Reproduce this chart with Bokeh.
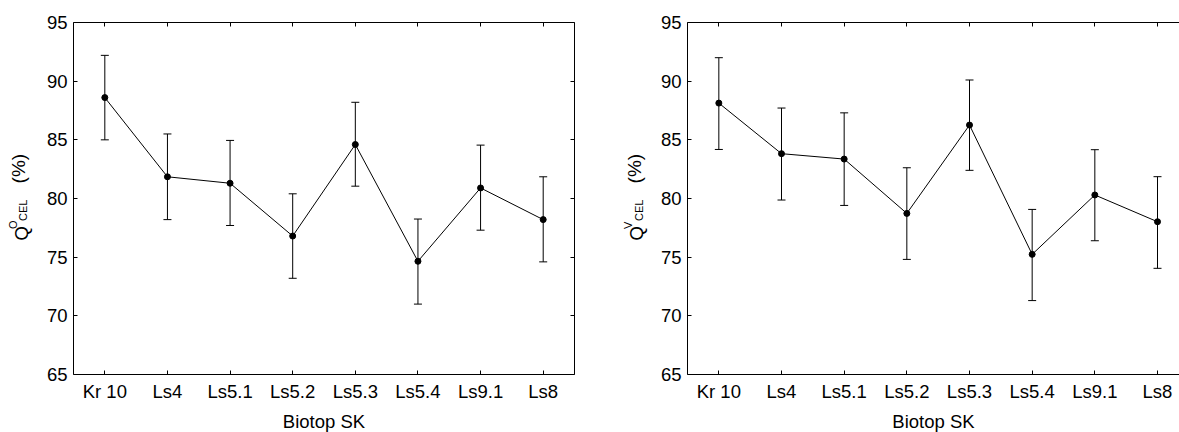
import math
from bokeh.plotting import figure
from bokeh.models import (LinearAxis, FixedTicker, Whisker, TeeHead,
                          ColumnDataSource, Range1d)
from bokeh.core.properties import value
from bokeh.layouts import row
from bokeh.embed import file_html
from bokeh.resources import INLINE

# ---- data -------------------------------------------------------------
categories = ["Kr 10", "Ls4", "Ls5.1", "Ls5.2", "Ls5.3", "Ls5.4", "Ls9.1", "Ls8"]

o_mean = [88.6, 81.85, 81.3, 76.8, 84.6, 74.65, 80.9, 78.2]
o_lower = [85.0, 78.2, 77.7, 73.2, 81.05, 71.0, 77.3, 74.6]
o_upper = [92.2, 85.5, 84.95, 80.4, 88.2, 78.25, 84.55, 81.85]

v_mean = [88.13, 83.82, 83.36, 78.73, 86.26, 75.24, 80.3, 78.02]
v_lower = [84.18, 79.87, 79.41, 74.81, 82.4, 71.3, 76.4, 74.05]
v_upper = [92.0, 87.71, 87.3, 82.62, 90.1, 79.07, 84.16, 81.86]

y_ticks = [65, 70, 75, 80, 85, 90, 95]
x_label = "Biotop SK"

FONT = "Liberation Sans"
FS = "18.5px"
H = 430
FRAME_TOP = 22
FRAME_BOTTOM = 374


def hidden_axis(ticker):
    ax = LinearAxis(ticker=ticker)
    ax.axis_label = None
    ax.major_label_text_font_size = "0px"
    ax.major_label_text_alpha = 0
    ax.major_label_standoff = 0
    ax.major_tick_in = 4
    ax.major_tick_out = 0
    ax.minor_tick_in = 0
    ax.minor_tick_out = 0
    ax.axis_line_color = "black"
    ax.major_tick_line_color = "black"
    return ax


def style_axis(ax, standoff):
    ax.major_label_text_font = FONT
    ax.major_label_text_font_size = FS
    ax.major_label_text_color = "black"
    ax.major_label_standoff = standoff
    ax.major_tick_in = 4
    ax.major_tick_out = 0
    ax.minor_tick_in = 0
    ax.minor_tick_out = 0
    ax.axis_line_color = "black"
    ax.major_tick_line_color = "black"


def make_panel(mean, lower, upper, x_end, frame_w, b_left, b_right, with_right):
    xs = list(range(len(categories)))
    p = figure(frame_width=frame_w, frame_height=FRAME_BOTTOM - FRAME_TOP,
               x_range=Range1d(-0.5, x_end), y_range=Range1d(65, 95),
               min_border_left=b_left, min_border_right=b_right,
               min_border_top=FRAME_TOP, min_border_bottom=H - FRAME_BOTTOM,
               output_backend="svg", toolbar_location=None)
    p.outline_line_color = None
    p.grid.visible = False
    p.background_fill_color = "white"
    p.border_fill_color = "white"

    xt = FixedTicker(ticks=xs)
    yt = FixedTicker(ticks=y_ticks)

    xa = p.below[0]
    xa.ticker = xt
    xa.major_label_overrides = {i: c for i, c in zip(xs, categories)}
    style_axis(xa, 6)
    xa.axis_label = x_label
    xa.axis_label_text_font = FONT
    xa.axis_label_text_font_size = FS
    xa.axis_label_text_font_style = "normal"
    xa.axis_label_text_color = "black"
    xa.axis_label_standoff = 6

    ya = p.left[0]
    ya.ticker = yt
    style_axis(ya, 6)

    p.add_layout(hidden_axis(xt), "above")
    if with_right:
        p.add_layout(hidden_axis(yt), "right")

    src = ColumnDataSource(dict(x=xs, mean=mean, lower=lower, upper=upper))
    w = Whisker(source=src, base="x", upper="upper", lower="lower",
                dimension="height", line_color="black", line_width=1,
                upper_head=TeeHead(size=8, line_color="black", line_width=1),
                lower_head=TeeHead(size=8, line_color="black", line_width=1))
    p.add_layout(w)
    p.line("x", "mean", source=src, line_color="black", line_width=1)
    p.scatter("x", "mean", source=src, size=6, fill_color="black",
              line_color="black")
    return p


def make_ylabel(width, origin, sup):
    """Rotated label Q^sup_CEL (%) drawn as text pieces in pixel units.
    The row aligns this strip's frame with the panels' frames, so the
    y range covers exactly the frame's pixel span."""
    f = figure(width=width, height=H, x_range=Range1d(0, width),
               y_range=Range1d(H - FRAME_BOTTOM, H - FRAME_TOP), min_border=0,
               x_axis_location=None, y_axis_location=None,
               output_backend="svg", toolbar_location=None)
    f.outline_line_color = None
    f.grid.visible = False
    f.border_fill_color = "white"
    f.background_fill_color = "white"
    # (text, box-top x on page, text start y on page, font size)
    pieces = [("Q", 10.3, 242.5, FS),
              (sup, 6.3, 230.8, "11px"),
              ("CEL", 16.5, 222.7, "11px"),
              ("(%)", 7.7, 184.8, "19px")]
    for txt, px, py, fs in pieces:
        f.text(x=[px + origin], y=[H - py], text=[txt], angle=math.pi / 2,
               text_font=value(FONT), text_font_size=value(fs),
               text_color="black", text_align="left",
               text_baseline="top")
    return f


yl1 = make_ylabel(40, 0.0, "O")
p1 = make_panel(o_mean, o_lower, o_upper, 7.5, 501, 33, 26, True)
# second label strip spans page x 600..654; label sits 615.5 px right of the first
yl2 = make_ylabel(54, 15.5, "V")
p2 = make_panel(v_mean, v_lower, v_upper, 7.351, 492, 33, 0, False)

layout = row(yl1, p1, yl2, p2)
open("out.html", "w").write(file_html(layout, INLINE))
